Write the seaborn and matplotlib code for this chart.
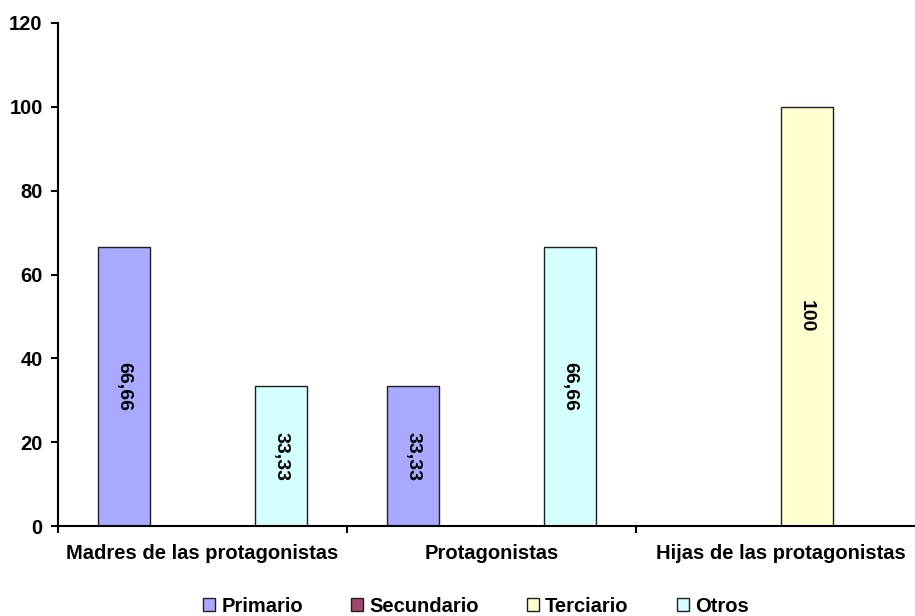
import numpy as np
import pandas as pd
import seaborn as sns
from matplotlib import pyplot as plt
from matplotlib.patches import Patch
from matplotlib.ticker import MultipleLocator, FixedLocator

grupos = ['Madres de las protagonistas', 'Protagonistas', 'Hijas de las protagonistas']
niveles = ['Primario', 'Secundario', 'Terciario', 'Otros']
primario = [66.66, 33.33, 0]
secundario = [0, 0, 0]
terciario = [0, 0, 100]
otros = [33.33, 66.66, 0]
colores = ['#A9A9FF', '#A3456F', '#FFFFD2', '#D3FFFF']

rows = []
for nivel, vals in zip(niveles, [primario, secundario, terciario, otros]):
    for g, v in zip(grupos, vals):
        rows.append({'grupo': g, 'nivel': nivel, 'valor': v})
df = pd.DataFrame(rows)

sns.set_style('white')
plt.rcParams['font.family'] = ['Liberation Sans', 'DejaVu Sans']
plt.rcParams['font.weight'] = 'bold'
plt.rcParams['text.color'] = 'black'
plt.rcParams['xtick.color'] = 'black'
plt.rcParams['ytick.color'] = 'black'

fs = 14.5

fig = plt.figure(figsize=(9.15, 6.16), dpi=100)
ax = fig.add_axes([58 / 915, 1 - 526 / 616, 867 / 915, 503 / 616])

sns.barplot(data=df, x='grupo', y='valor', hue='nivel', hue_order=niveles,
            order=grupos, palette=colores, edgecolor='#202020', linewidth=1,
            width=0.724, ax=ax, legend=False, saturation=1)

for cont, nivel in zip(ax.containers, niveles):
    vals = df[df.nivel == nivel].set_index('grupo').loc[grupos, 'valor'].values
    labs = [f'{v:g}'.replace('.', ',') if v > 0 else '' for v in vals]
    ax.bar_label(cont, labels=labs, label_type='center', rotation=-90,
                 fontsize=14, fontweight='bold', color='black')

ax.set_xlim(-0.5, 2.5)
ax.set_ylim(0, 120)
ax.yaxis.set_major_locator(MultipleLocator(20))
ax.set_xlabel('')
ax.set_ylabel('')
for s in ['top', 'right']:
    ax.spines[s].set_visible(False)
for s in ['left', 'bottom']:
    ax.spines[s].set_color('black')
    ax.spines[s].set_linewidth(1.5)

ax.tick_params(axis='y', which='major', length=5, width=1.5, direction='out',
               left=True, labelsize=fs, pad=6, color='black', labelcolor='black')
ax.tick_params(axis='x', which='major', length=0, labelsize=fs, pad=13, labelcolor='black')
ax.xaxis.set_minor_locator(FixedLocator([-0.5, 0.5, 1.5, 2.5]))
ax.tick_params(axis='x', which='minor', length=5, width=1.5, bottom=True,
               direction='out', color='black')
for lab in ax.get_xticklabels() + ax.get_yticklabels():
    lab.set_fontweight('bold')

handles = [Patch(facecolor=c, edgecolor='#202020', linewidth=1, label=n)
           for c, n in zip(colores, niveles)]
fig.legend(handles=handles, loc='center', bbox_to_anchor=(476 / 915, 1 - 606 / 616),
           ncol=4, frameon=False, handlelength=0.6, handleheight=0.6,
           handletextpad=0.3, columnspacing=2.4, prop={'size': fs, 'weight': 'bold'})

fig.savefig('out.png', dpi=100)
